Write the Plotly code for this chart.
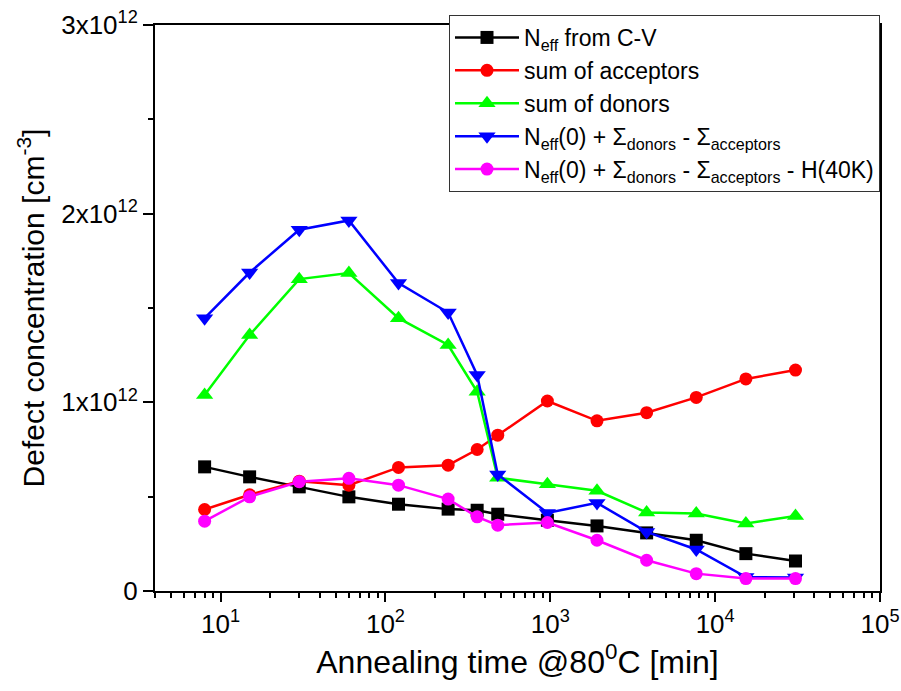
import numpy as np
import plotly.graph_objects as go

# Annealing time [min]
time_min = [8, 15, 30, 60, 120, 240, 360, 480, 960, 1920, 3840, 7680, 15360, 30720]

# Values in units of 1e12 cm^-3
neff_cv = [0.658, 0.605, 0.552, 0.499, 0.460, 0.434, 0.428, 0.407, 0.375, 0.345, 0.308, 0.269, 0.198, 0.159]
sum_acceptors = [0.432, 0.510, 0.582, 0.561, 0.655, 0.667, 0.750, 0.826, 1.007, 0.902, 0.945, 1.026, 1.124, 1.171]
sum_donors = [1.039, 1.357, 1.653, 1.685, 1.446, 1.304, 1.056, 0.600, 0.566, 0.531, 0.416, 0.411, 0.358, 0.398]
neff_calc = [1.446, 1.688, 1.915, 1.964, 1.632, 1.476, 1.145, 0.618, 0.414, 0.467, 0.313, 0.220, 0.074, 0.071]
neff_calc_h40k = [0.370, 0.499, 0.579, 0.597, 0.561, 0.487, 0.393, 0.349, 0.363, 0.269, 0.163, 0.092, 0.066, 0.066]

series_names = [
    "N<sub>eff</sub> from C-V",
    "sum of acceptors",
    "sum of donors",
    "N<sub>eff</sub>(0) + Σ<sub>donors</sub> - Σ<sub>acceptors</sub>",
    "N<sub>eff</sub>(0) + Σ<sub>donors</sub> - Σ<sub>acceptors</sub> - H(40K)",
]
series_values = [neff_cv, sum_acceptors, sum_donors, neff_calc, neff_calc_h40k]
series_colors = ["#000000", "#FF0000", "#00FF00", "#0000FF", "#FF00FF"]
series_symbols = ["square", "circle", "triangle-up", "triangle-down", "circle"]
series_sizes = [13, 13, 15, 15, 13]

y_tickvals = [0, 1e12, 2e12, 3e12]
y_ticktext = ["0", "1x10<sup>12</sup>", "2x10<sup>12</sup>", "3x10<sup>12</sup>"]
x_tickvals = [10, 100, 1000, 10000, 100000]
x_ticktext = ["10<sup>1</sup>", "10<sup>2</sup>", "10<sup>3</sup>", "10<sup>4</sup>", "10<sup>5</sup>"]

FONT = "Liberation Sans, Arial, sans-serif"

fig = go.Figure()
for name, vals, col, sym, sz in zip(series_names, series_values, series_colors, series_symbols, series_sizes):
    fig.add_trace(go.Scatter(
        x=time_min,
        y=np.array(vals) * 1e12,
        name=name,
        mode="lines+markers",
        line=dict(color=col, width=2.5),
        marker=dict(color=col, symbol=sym, size=sz, line=dict(width=0)),
    ))

minor_x = []
for dec in [1, 10, 100, 1000, 10000]:
    for m in range(2, 10):
        v = m * dec
        if 4 <= v <= 100000:
            minor_x.append(v)

fig.update_layout(
    width=901,
    height=691,
    margin=dict(l=155, r=21, t=25, b=100, autoexpand=False),
    paper_bgcolor="white",
    plot_bgcolor="white",
    font=dict(family=FONT, color="black"),
    showlegend=True,
    legend=dict(
        x=1.0, y=1.0177, xanchor="right", yanchor="top",
        bgcolor="white", bordercolor="#333333", borderwidth=1,
        font=dict(size=23, family=FONT, color="black"),
        itemwidth=64,
        tracegroupgap=0,
    ),
    xaxis=dict(
        type="log",
        range=[np.log10(4), 5],
        showline=True, linecolor="black", linewidth=2, mirror=True,
        showgrid=False, zeroline=False,
        ticks="outside", ticklen=9, tickwidth=2, tickcolor="black",
        tickmode="array", tickvals=x_tickvals, ticktext=x_ticktext,
        tickfont=dict(size=26, family=FONT),
        minor=dict(tickmode="array", tickvals=minor_x, ticks="outside", ticklen=5,
                   tickwidth=2, tickcolor="black", showgrid=False),
        title=dict(text="Annealing time @80<sup>0</sup>C [min]",
                   font=dict(size=32, family=FONT), standoff=10),
    ),
    yaxis=dict(
        range=[0, 3e12],
        showline=True, linecolor="black", linewidth=2, mirror=True,
        showgrid=False, zeroline=False,
        ticks="outside", ticklen=10, tickwidth=2, tickcolor="black",
        tickmode="array", tickvals=y_tickvals, ticktext=y_ticktext,
        tickfont=dict(size=26, family=FONT),
        minor=dict(tickmode="linear", tick0=0, dtick=0.5e12, ticks="outside", ticklen=5,
                   tickwidth=2, tickcolor="black", showgrid=False),
        title=dict(text="Defect concentration [cm<sup>-3</sup>]",
                   font=dict(size=30, family=FONT), standoff=8),
    ),
)

fig.write_html("out.html")
